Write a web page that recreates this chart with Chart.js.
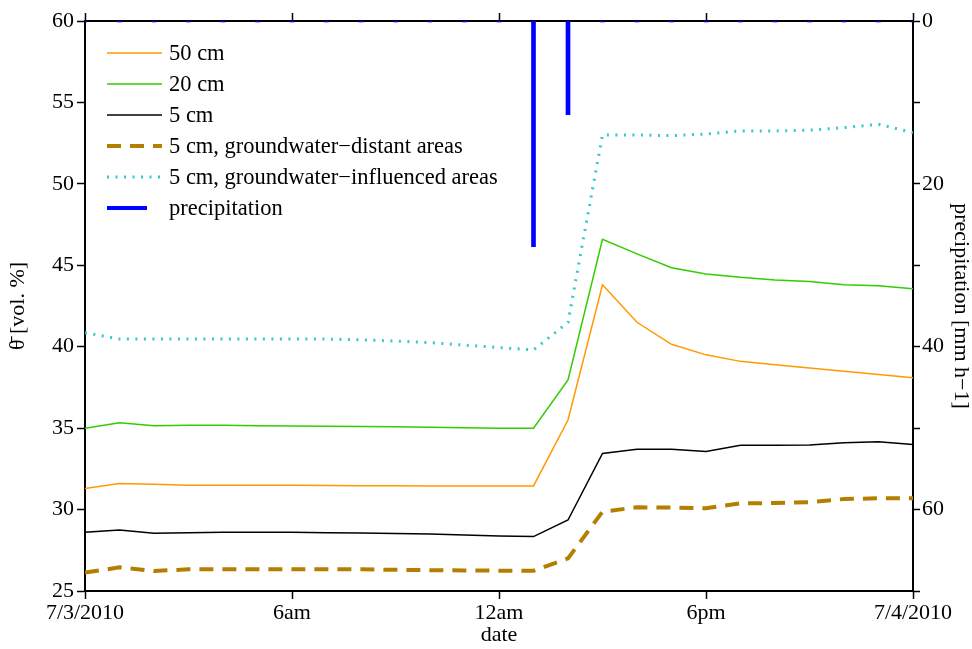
<!DOCTYPE html>
<html>
<head>
<meta charset="utf-8">
<script src="https://cdn.jsdelivr.net/npm/chart.js@4"></script>
<style>
  body { margin: 0; background: #fff; }
  #wrap { position: relative; width: 972px; height: 649px; }
  #legend { position: absolute; left: 0; top: 0; font-family: "Liberation Serif", "DejaVu Serif", serif; font-size: 22.5px; color: #000; }
  .row { position: absolute; left: 107px; height: 22px; white-space: nowrap; }
  .row svg { position: absolute; left: 0; top: 4px; }
  .row span { position: absolute; left: 62px; top: 0; line-height: 22px; }
</style>
</head>
<body>
<div id="wrap">
  <canvas id="chart" width="972" height="649"></canvas>
  <div id="legend"></div>
</div>
<script>
// hours after 7/3/2010 00:00
const hours = [0,1,2,3,4,5,6,7,8,9,10,11,12,13,14,15,16,17,18,19,20,21,22,23,24];
const xTickLabels = ["7/3/2010", "6am", "12am", "6pm", "7/4/2010"];

const theta50 = [31.3,31.6,31.55,31.5,31.5,31.5,31.5,31.48,31.47,31.46,31.45,31.45,31.45,31.45,35.5,43.8,41.5,40.15,39.5,39.1,38.9,38.7,38.5,38.3,38.1];
const theta20 = [35.0,35.33,35.15,35.18,35.17,35.15,35.13,35.12,35.1,35.08,35.05,35.03,35.0,35.0,37.96,46.6,45.7,44.85,44.47,44.26,44.1,44.0,43.8,43.75,43.56];
const theta5 = [28.6,28.75,28.54,28.58,28.6,28.6,28.6,28.58,28.56,28.53,28.5,28.44,28.38,28.34,29.36,33.45,33.7,33.7,33.56,33.95,33.95,33.97,34.1,34.17,34.0];
const thetaDistant = [26.13,26.45,26.23,26.33,26.33,26.33,26.33,26.33,26.33,26.3,26.28,26.26,26.25,26.25,27.0,29.87,30.14,30.12,30.08,30.38,30.4,30.45,30.65,30.69,30.69];
const thetaInfluenced = [40.86,40.47,40.47,40.47,40.47,40.47,40.47,40.47,40.42,40.35,40.25,40.1,39.95,39.8,41.5,53.0,53.0,52.96,53.06,53.25,53.25,53.3,53.45,53.66,53.14];
const precip = [0,0,0,0,0,0,0,0,0,0,0,0,0,27.7,11.5,0,0,0,0,0,0,0,0,0,0];

const FONT = { family: '"Liberation Serif", "DejaVu Serif", serif', size: 22, lineHeight: 1 };

function pts(arr) {
  return hours.map((h, i) => ({ x: h, y: arr[i] }));
}

const series = [
  { label: "50 cm", data: theta50, color: "#ff9900", width: 1.5, dash: [] },
  { label: "20 cm", data: theta20, color: "#33cc00", width: 1.5, dash: [] },
  { label: "5 cm", data: theta5, color: "#000000", width: 1.5, dash: [] },
  { label: "5 cm, groundwater\u2212distant areas", data: thetaDistant, color: "#b47f00", width: 4, dash: [14, 9] },
  { label: "5 cm, groundwater\u2212influenced areas", data: thetaInfluenced, color: "#2ecbcb", width: 3, dash: [2, 6.5] }
];

const datasets = series.map(s => ({
  type: "line",
  label: s.label,
  data: pts(s.data),
  borderColor: s.color,
  borderWidth: s.width,
  borderDash: s.dash,
  pointRadius: 0,
  tension: 0,
  xAxisID: "x",
  yAxisID: "y"
}));

datasets.push({
  type: "bar",
  label: "precipitation",
  data: pts(precip),
  backgroundColor: "#0000ff",
  barThickness: 4,
  minBarLength: 2,
  xAxisID: "x",
  yAxisID: "y2"
});

const gridOpts = { offset: false, drawOnChartArea: false, drawTicks: true, tickLength: 8, tickWidth: 1.5, tickColor: "#000" };
const borderOpts = { color: "#000", width: 2 };

new Chart(document.getElementById("chart").getContext("2d"), {
  type: "line",
  data: { datasets },
  options: {
    responsive: false,
    animation: false,
    layout: { padding: 0 },
    plugins: { legend: { display: false }, tooltip: { enabled: false } },
    scales: {
      x: {
        type: "linear", position: "bottom", min: 0, max: 24, offset: false,
        ticks: { stepSize: 6, autoSkip: false, maxRotation: 0, padding: 3, color: "#000", font: FONT,
                 callback: v => xTickLabels[v / 6] },
        grid: gridOpts, border: borderOpts,
        title: { display: true, text: "date", color: "#000", font: FONT, padding: { top: 0, bottom: 3 } },
        afterFit: s => { s.height = 58; }
      },
      x2: {
        type: "linear", position: "top", min: 0, max: 24, offset: false,
        ticks: { stepSize: 6, display: false },
        grid: gridOpts, border: borderOpts,
        afterFit: s => { s.height = 21; }
      },
      y: {
        type: "linear", position: "left", min: 25, max: 60,
        ticks: { stepSize: 5, padding: 3, color: "#000", font: FONT },
        grid: gridOpts, border: borderOpts,
        title: { display: true, text: "\u03B8\u0304 [vol. %]", color: "#000", font: FONT, padding: { top: 7, bottom: 0 } },
        afterFit: s => { s.width = 85; }
      },
      y2: {
        type: "linear", position: "right", min: 0, max: 70, reverse: true,
        ticks: { stepSize: 10, padding: 2, color: "#000", font: FONT,
                 callback: v => (v % 20 === 0 ? v : "") },
        grid: Object.assign({}, gridOpts, { tickLength: 7 }), border: borderOpts,
        title: { display: true, text: "precipitation [mm h\u22121]", color: "#000", font: FONT, padding: { top: 0, bottom: 0 } },
        afterFit: s => { s.width = 59; }
      }
    }
  }
});

// legend drawn inside the plot, top-left
const legendRows = series.map(s => ({ label: s.label, color: s.color, width: s.width, dash: s.dash, len: 55 }));
legendRows.push({ label: "precipitation", color: "#0000ff", width: 4, dash: [], len: 40 });

const legend = document.getElementById("legend");
legendRows.forEach((r, i) => {
  const row = document.createElement("div");
  row.className = "row";
  row.style.top = (42 + i * 31) + "px";
  const dash = r.dash.length ? ' stroke-dasharray="' + r.dash.join(",") + '"' : "";
  row.innerHTML =
    '<svg width="56" height="14"><line x1="0" y1="7" x2="' + r.len + '" y2="7" stroke="' + r.color +
    '" stroke-width="' + r.width + '"' + dash + '/></svg><span>' + r.label + '</span>';
  legend.appendChild(row);
});
</script>
</body>
</html>
